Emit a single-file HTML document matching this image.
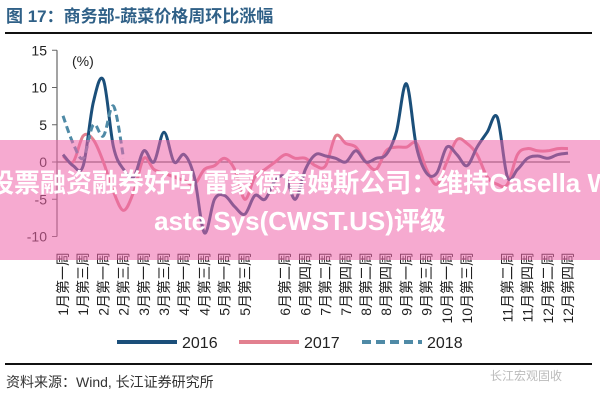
<!DOCTYPE html>
<html><head><meta charset="utf-8"><style>
body{margin:0;width:600px;height:400px;background:#fff;overflow:hidden;position:relative;font-family:"Liberation Sans","Noto Sans CJK SC",sans-serif}
#band{position:absolute;left:0;top:140px;width:600px;height:120px;background:rgba(238,100,170,0.55)}
.bt{position:absolute;left:-200px;width:1000px;text-align:center;white-space:nowrap;color:#fff;font-weight:bold;font-size:26px;line-height:30px;font-family:"Liberation Sans","Noto Sans CJK SC",sans-serif}
</style></head><body>
<svg id="chart" width="600" height="400" style="position:absolute;left:0;top:0">
<text x="6" y="22" font-size="17" font-weight="bold" fill="#2f6087" font-family="Liberation Sans, Noto Sans CJK SC, sans-serif">图 17：商务部-蔬菜价格周环比涨幅</text>
<line x1="5" y1="33" x2="592" y2="33" stroke="#111" stroke-width="2"/>
<line x1="5" y1="364" x2="592" y2="364" stroke="#111" stroke-width="2"/>
<text x="6" y="387" font-size="14" fill="#333" font-family="Liberation Sans, Noto Sans CJK SC, sans-serif">资料来源：Wind, 长江证券研究所</text>
<text x="490" y="380" font-size="12" fill="#bbb" font-family="Liberation Sans, Noto Sans CJK SC, sans-serif">长江宏观固收</text>
<text x="72" y="66" font-size="14" fill="#222">(%)</text>
<g id="axes"></g><g id="series"></g><g id="legend"></g>
</svg>
<div id="band"></div>
<div class="bt" style="top:168px">股票融资融券好吗 雷蒙德詹姆斯公司：维持Casella W</div>
<div class="bt" style="top:206px">aste Sys(CWST.US)评级</div>
<script>
const yTicks=[15,10,5,0,-5,-10];
const labelWeeks=[0,2,4,6,8,10,12,14,16,18,22,24,26,28,30,32,34,36,38,40,44,46,48,50];
const xLabels=["1月第一周","1月第三周","2月第一周","2月第三周","3月第一周","3月第三周","4月第一周","4月第三周","5月第一周","5月第三周","6月第二周","6月第四周","7月第二周","7月第四周","8月第二周","8月第四周","9月第一周","9月第三周","10月第一周","10月第三周","11月第二周","11月第四周","12月第二周","12月第四周"];
const s2016=[1,-0.5,-0.5,8,11,2,-1,-2,1.5,0,4,0,1,-2,-9.5,-5,-4.5,-6,-7,-4.5,-5,-2.5,-2,-5,-1,1,0.8,0.5,0,1.5,0,0.5,1,4,10.5,2,-1.5,-1.5,2,1,-0.5,2,4,6,-2,-1,0.5,0.8,0.5,1,1.2];
const s2017=[0.8,0,3.5,3,0,-4,-6.5,-4,0.5,-1,-1.5,-2,-2.5,-3,-1,-0.5,0.5,-1,-5,-2,-1,0,1,0.5,0.5,-0.5,-0.5,3.5,2.5,2,0,-1,1.5,2,2,2.5,-1,-3,0,3,2.5,1,-2,-3,-3,1,1.8,1.5,1.5,1.8,1.8];
const s2018=[6.2,2.5,0.5,5,3.5,7.5,0.5];
const seriesNames=["2016","2017","2018"];
const NS="http://www.w3.org/2000/svg";
const x=w=>63+10.1*w;
const y=v=>162-v*7.45;
function mk(tag,attrs,parent){const e=document.createElementNS(NS,tag);for(const k in attrs)e.setAttribute(k,attrs[k]);parent.appendChild(e);return e;}
const ax=document.getElementById('axes');
let yl=mk('line',{x1:57,y1:y(15),x2:57,y2:y(-10),stroke:'#666','stroke-width':1.2},ax);


let xl=mk('line',{x1:57,y1:y(0),x2:570,y2:y(0),stroke:'#666','stroke-width':1.2},ax);


yTicks.forEach(v=>{
 let t=mk('line',{x1:52,y1:y(v),x2:57,y2:y(v),stroke:'#666'},ax);
 
 
 let tx=mk('text',{x:47,y:y(v)+5,'text-anchor':'end','font-size':14,fill:'#222'},ax);
 tx.textContent=v;
 
 
});
labelWeeks.forEach((w,i)=>{
 let tx=mk('text',{transform:`translate(${x(w)+5},252) rotate(-90)`,'text-anchor':'end','font-size':14,fill:'#222','font-family':'Liberation Sans, Noto Sans CJK SC, sans-serif'},ax);
 tx.textContent=xLabels[i];
 
 
});
const sg=document.getElementById('series');
function path(arr){
 const p=arr.map((v,i)=>[x(i),y(v)]);
 let d='M'+p[0][0].toFixed(1)+','+p[0][1].toFixed(1);
 for(let i=0;i<p.length-1;i++){
  const p0=p[i-1]||p[i],p1=p[i],p2=p[i+1],p3=p[i+2]||p2;
  const c1=[p1[0]+(p2[0]-p0[0])/6,p1[1]+(p2[1]-p0[1])/6];
  const c2=[p2[0]-(p3[0]-p1[0])/6,p2[1]-(p3[1]-p1[1])/6];
  d+=' C'+c1.map(n=>n.toFixed(1)).join(',')+' '+c2.map(n=>n.toFixed(1)).join(',')+' '+p2.map(n=>n.toFixed(1)).join(',');
 }
 return d;
}
let p17=mk('path',{d:path(s2017),fill:'none',stroke:'#e2808f','stroke-width':3,'stroke-linejoin':'round'},sg);


let p16=mk('path',{d:path(s2016),fill:'none',stroke:'#1b4f7a','stroke-width':3,'stroke-linejoin':'round'},sg);


let p18=mk('path',{d:path(s2018),fill:'none',stroke:'#4f8aa6','stroke-width':3,'stroke-dasharray':'7 4'},sg);


const lg=document.getElementById('legend');
const legX=[117,239,362];
const legStyle=[['#1b4f7a',''],['#e2808f',''],['#4f8aa6','9 5']];
seriesNames.forEach((n,i)=>{
 let l=mk('line',{x1:legX[i],y1:342,x2:legX[i]+60,y2:342,stroke:legStyle[i][0],'stroke-width':4,'stroke-dasharray':legStyle[i][1]},lg);
 
 
 let t=mk('text',{x:legX[i]+65,y:348,'font-size':16,fill:'#222'},lg);
 t.textContent=n;
 
 
});
</script>
</body></html>
